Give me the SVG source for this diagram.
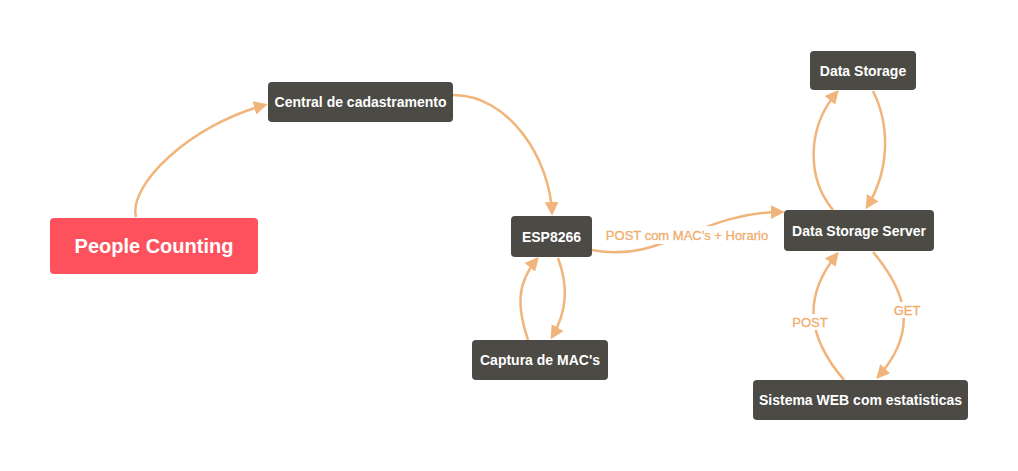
<svg xmlns="http://www.w3.org/2000/svg" width="1018" height="471" viewBox="0 0 1018 471">
<style>
.n rect{fill:#4b4a45;}
.n text{fill:#ffffff;font-family:"Liberation Sans",Arial,sans-serif;font-weight:bold;font-size:14px;text-anchor:middle;dominant-baseline:central;}
#people rect{fill:#fd525e;}
#people text{font-size:20px;}
.e path{fill:none;stroke:#f1b57c;stroke-width:2.5;marker-end:url(#ah);}
.lbl{fill:#f0ad6e;font-family:"Liberation Sans",Arial,sans-serif;font-size:13px;text-anchor:middle;dominant-baseline:central;stroke:#f0ad6e;stroke-width:0.3;}
.lb{fill:#ffffff;}
</style>
<defs>
<marker id="ah" viewBox="0 0 10 10" refX="8" refY="5" markerWidth="5.5" markerHeight="5.5" orient="auto" markerUnits="strokeWidth">
<path d="M0,0 L10,5 L0,10 z" fill="#f1b57c"/>
</marker>
</defs>
<rect width="1018" height="471" fill="#ffffff"/>
<g id="connectors" class="e">
<path d="M136,217 C128,185 190,125 265,105"/>
<path d="M453,95 C510,95 550,160 552,213"/>
<path d="M592,250 C660,264 700,212 782,212"/>
<path d="M528,340 C518,310 515,285 537,259"/>
<path d="M558,258 C568,285 568,310 552,337"/>
<path d="M833,210 C808,180 805,130 837,92"/>
<path d="M873,91 C890,125 890,170 867,207"/>
<path d="M844,380 C810,340 800,300 837,254"/>
<path d="M873,252 C905,290 920,330 878,377"/>
<rect class="lb" x="605" y="226" width="164" height="18"/>
<text class="lbl" x="687" y="235">POST com MAC's + Horario</text>
<rect class="lb" x="792" y="314" width="36" height="16"/>
<text class="lbl" x="810" y="322">POST</text>
<rect class="lb" x="893" y="302" width="29" height="16"/>
<text class="lbl" x="907" y="310">GET</text>
</g>
<g id="people" class="n"><rect x="50" y="218" width="208" height="56" rx="4"/><text x="154" y="246">People Counting</text></g>
<g id="central" class="n"><rect x="268" y="82" width="185" height="40" rx="4"/><text x="360.5" y="102">Central de cadastramento</text></g>
<g id="esp" class="n"><rect x="511" y="216" width="81" height="41" rx="4"/><text x="551.5" y="236.5">ESP8266</text></g>
<g id="captura" class="n"><rect x="472" y="340" width="136" height="40" rx="4"/><text x="540" y="360">Captura de MAC's</text></g>
<g id="storage" class="n"><rect x="810" y="51" width="106" height="39" rx="4"/><text x="863" y="70.5">Data Storage</text></g>
<g id="server" class="n"><rect x="784" y="210" width="150" height="41" rx="4"/><text x="859" y="230.5">Data Storage Server</text></g>
<g id="web" class="n"><rect x="753" y="380" width="215" height="40" rx="4"/><text x="860.5" y="400">Sistema WEB com estatisticas</text></g>
</svg>
